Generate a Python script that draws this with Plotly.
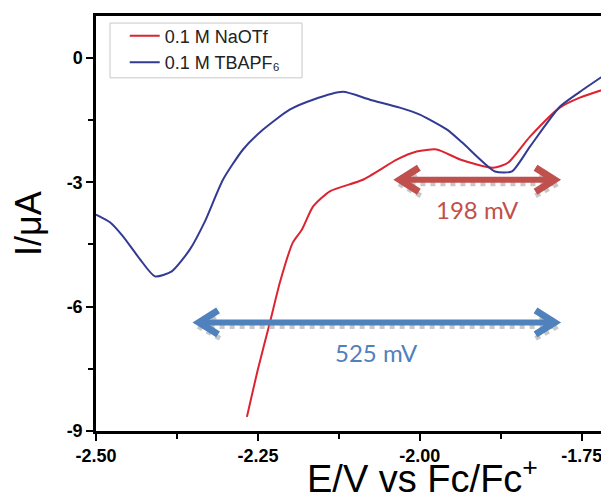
import plotly.graph_objects as go

# ---- data ----
naotf_E = [-2.267, -2.250, -2.231, -2.216, -2.196, -2.182, -2.165, -2.139, -2.088, -2.035,
           -2.005, -1.974, -1.938, -1.887, -1.864, -1.830, -1.784, -1.753, -1.708]
naotf_I = [-8.66, -7.51, -6.35, -5.41, -4.45, -4.14, -3.59, -3.22, -2.94, -2.45,
           -2.26, -2.21, -2.45, -2.65, -2.53, -1.90, -1.20, -0.96, -0.72]

tbapf_E = [-2.500, -2.478, -2.458, -2.432, -2.409, -2.383, -2.355, -2.332, -2.304, -2.273,
           -2.242, -2.201, -2.165, -2.119, -2.077, -2.031, -2.000, -1.958, -1.934, -1.884,
           -1.858, -1.830, -1.784, -1.753, -1.708]
tbapf_I = [-3.78, -3.97, -4.31, -4.86, -5.27, -5.15, -4.62, -3.95, -2.94, -2.21,
           -1.73, -1.25, -1.01, -0.82, -1.01, -1.20, -1.37, -1.73, -2.05, -2.74,
           -2.74, -2.14, -1.18, -0.82, -0.34]

x_tickvals = [-2.50, -2.25, -2.00, -1.75]
x_ticktext = ["-2.50", "-2.25", "-2.00", "-1.75"]
y_tickvals = [0, -3, -6, -9]
y_ticktext = ["0", "-3", "-6", "-9"]

# arrows: (left E, right E, I, label, colour)
arrow_red = (-2.034, -1.789, -2.94, "198 mV", "#C0504D")
arrow_blue = (-2.344, -1.789, -6.38, "525 mV", "#4F81BD")

FONT = "Arial, Liberation Sans, sans-serif"

fig = go.Figure()
fig.add_trace(go.Scatter(x=naotf_E, y=naotf_I, mode="lines", name="0.1 M NaOTf",
                         line=dict(color="#DC2430", width=2, shape="spline", smoothing=0.6)))
fig.add_trace(go.Scatter(x=tbapf_E, y=tbapf_I, mode="lines", name="0.1 M TBAPF₆",
                         line=dict(color="#333A92", width=2, shape="spline", smoothing=0.6)))

shapes = []
annotations = []

# legend frame
shapes.append(dict(type="rect", xref="paper", yref="paper", x0=0.0273, x1=0.4016, y0=0.851, y1=0.983,
                   fillcolor="white", line=dict(color="#C8C8C8", width=1), layer="below"))

for (x0, x1, yv, label, col) in [arrow_red, arrow_blue]:
    # shadow
    shapes.append(dict(type="line", xref="x", yref="y", ysizemode="pixel", yanchor=yv,
                       x0=x0 + 0.004, x1=x1 - 0.004, y0=-4, y1=-4,
                       line=dict(color="#C8C8C8", width=5, dash="dot"), layer="above"))
    for xa, sgn in [(x0, 1), (x1, -1)]:
        shapes.append(dict(type="path", xref="x", yref="y", xsizemode="pixel", ysizemode="pixel",
                           xanchor=xa, yanchor=yv,
                           path=f"M {sgn*22 + 1},{-16} L 1,-4 L {sgn*22 + 1},8",
                           line=dict(color="#C8C8C8", width=5, dash="dot"), layer="above"))
    # shaft
    shapes.append(dict(type="line", xref="x", yref="y", x0=x0 + 0.004, x1=x1 - 0.004, y0=yv, y1=yv,
                       line=dict(color=col, width=6), layer="above"))
    # heads
    for xa, sgn in [(x0, 1), (x1, -1)]:
        shapes.append(dict(type="path", xref="x", yref="y", xsizemode="pixel", ysizemode="pixel",
                           xanchor=xa, yanchor=yv,
                           path=f"M {sgn*21},12 L {sgn*2},0 L {sgn*21},-12",
                           line=dict(color=col, width=7), layer="above"))
    annotations.append(dict(x=(x0 + x1) / 2, y=yv, xref="x", yref="y", yshift=-30,
                            text=label, showarrow=False,
                            font=dict(family="Lato, Open Sans, sans-serif", size=24, color=col)))

# x-axis title (placed as in the reference, right of centre)
annotations.append(dict(x=0.637, y=0, xref="paper", yref="paper", xanchor="center", yanchor="top",
                        yshift=-19, showarrow=False, text="E/V vs Fc/Fc<sup>+</sup>",
                        font=dict(size=38, family=FONT, color="black")))

# page body has an 8px margin; the figure is sized so the plot lands on the reference pixels
fig.update_layout(
    width=601, height=493,
    margin=dict(l=88, r=0, t=8, b=70, autoexpand=False),
    paper_bgcolor="white", plot_bgcolor="white",
    showlegend=True,
    legend=dict(x=0.056, y=0.996, xanchor="left", yanchor="top",
                bgcolor="rgba(0,0,0,0)", borderwidth=0,
                font=dict(family=FONT, size=18, color="#222"),
                tracegroupgap=0, itemwidth=30),
    shapes=shapes, annotations=annotations,
    font=dict(family=FONT, color="black"),
)
fig.update_xaxes(range=[-2.5, -1.708], showgrid=False, zeroline=False, automargin=False,
                 showline=True, linecolor="black", linewidth=2.5, mirror=True,
                 ticks="outside", ticklen=7, tickwidth=2, tickcolor="black",
                 tickvals=x_tickvals, ticktext=x_ticktext,
                 tickfont=dict(size=18, family=FONT, weight="bold", color="black"),
                 minor=dict(ticks="outside", ticklen=5, tickwidth=2, tickcolor="black", dtick=0.125,
                            tick0=-2.5, showgrid=False))
fig.update_yaxes(range=[-9, 1.01], showgrid=False, zeroline=False, automargin=False,
                 showline=True, linecolor="black", linewidth=2.5, mirror=False,
                 ticks="outside", ticklen=7, tickwidth=2, tickcolor="black",
                 tickvals=y_tickvals, ticktext=y_ticktext,
                 tickfont=dict(size=18, family=FONT, weight="bold", color="black"),
                 minor=dict(ticks="outside", ticklen=5, tickwidth=2, tickcolor="black", dtick=1.5,
                            tick0=0, showgrid=False),
                 title=dict(text="I/μA", font=dict(size=36, family=FONT, color="black"), standoff=15))

fig.write_html("out.html")
